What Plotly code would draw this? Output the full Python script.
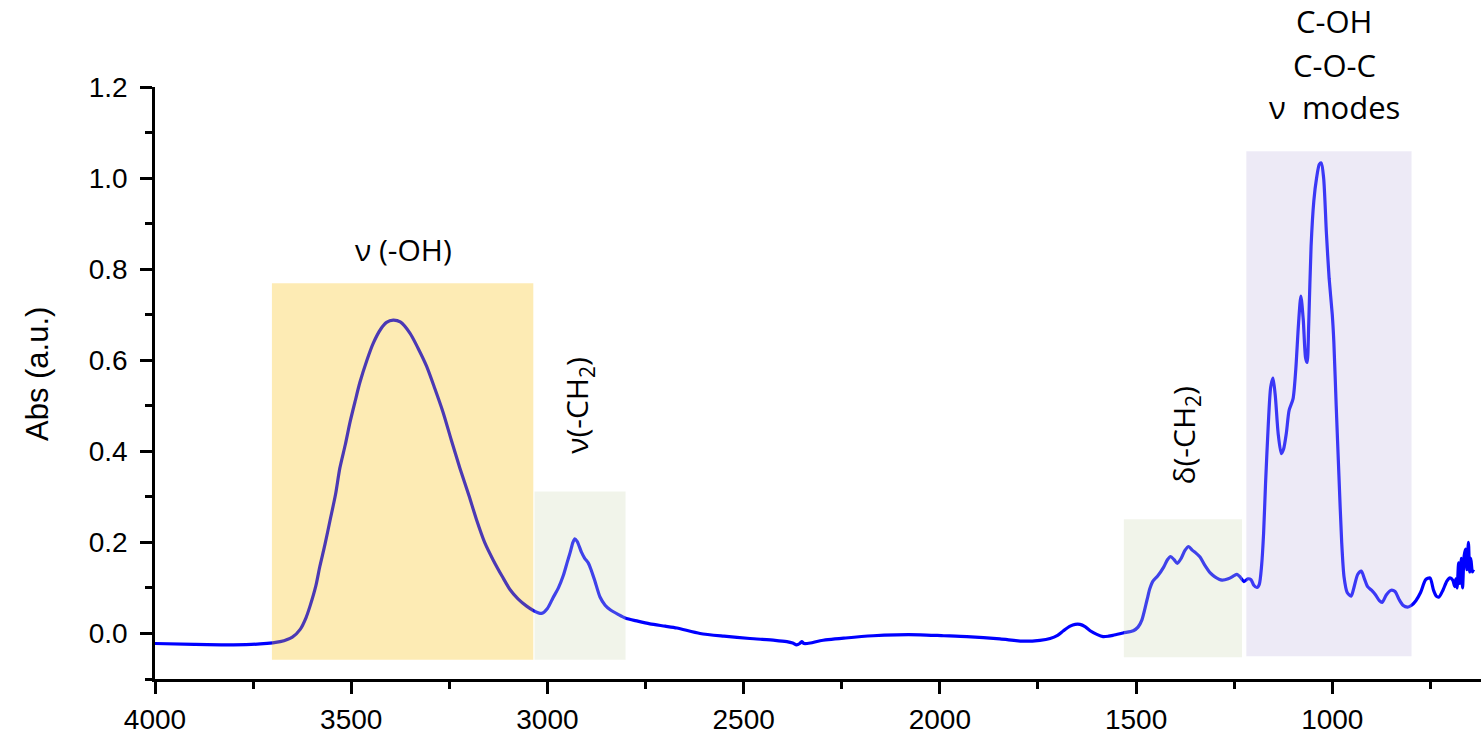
import plotly.graph_objects as go

# ---- data ----
wavenumber = [4000, 3900, 3800, 3732, 3681, 3650, 3630, 3615, 3605, 3590, 3580, 3567, 3554, 3540, 3529,
              3515, 3503, 3490, 3478, 3460, 3444, 3425, 3410, 3393, 3375, 3350, 3330, 3308, 3287, 3266,
              3245, 3223, 3200, 3180, 3160, 3138, 3115, 3095, 3075, 3053, 3035, 3015, 3000, 2986, 2972,
              2960, 2950, 2942, 2935, 2930, 2924, 2913, 2905, 2896, 2888, 2879, 2866, 2853, 2840, 2820,
              2802, 2770, 2739, 2700, 2670, 2611, 2550, 2484, 2420, 2390, 2375, 2365, 2357, 2352, 2346,
              2330, 2305, 2240, 2170, 2110, 2050, 1990, 1931, 1847, 1788, 1745, 1719, 1700, 1685, 1668,
              1655, 1643, 1630, 1617, 1600, 1584, 1570, 1558, 1533, 1507, 1495, 1485, 1472, 1465, 1457,
              1445, 1430, 1420, 1412, 1403, 1395, 1385, 1375, 1366, 1357, 1348, 1337, 1325, 1311, 1300,
              1281, 1265, 1250, 1243, 1235, 1225, 1215, 1207, 1200, 1192, 1186, 1180, 1175, 1170, 1163,
              1157, 1151, 1145, 1138, 1130, 1124, 1117, 1110, 1100, 1093, 1086, 1080, 1074, 1068, 1064,
              1060, 1054, 1047, 1040, 1033, 1028, 1022, 1015, 1008, 1000, 996, 990, 983, 976, 970,
              962, 952, 945, 935, 926, 918, 910, 900, 890, 880, 873, 862, 850, 840, 830,
              820, 808, 798, 787, 775, 762, 751, 742, 735, 728, 718, 708, 700, 693, 688,
              685, 682, 678, 675, 671, 668, 664, 660, 657, 653, 650, 647, 643, 640]

absorbance = [-0.022, -0.024, -0.025, -0.023, -0.018, -0.008, 0.009, 0.035, 0.06, 0.105, 0.147, 0.195, 0.248, 0.305, 0.363,
              0.415, 0.464, 0.51, 0.551, 0.60, 0.637, 0.668, 0.683, 0.688, 0.684, 0.659, 0.627, 0.587, 0.538, 0.486,
              0.425, 0.363, 0.303, 0.248, 0.2, 0.161, 0.125, 0.096, 0.076, 0.06, 0.05, 0.044, 0.055, 0.078, 0.10,
              0.126, 0.155, 0.178, 0.200, 0.208, 0.202, 0.178, 0.165, 0.155, 0.138, 0.115, 0.08, 0.062, 0.052, 0.042,
              0.034, 0.027, 0.021, 0.016, 0.012, 0.000, -0.006, -0.011, -0.015, -0.018, -0.021, -0.025, -0.022, -0.018, -0.022,
              -0.021, -0.016, -0.01, -0.005, -0.003, -0.003, -0.005, -0.007, -0.012, -0.017, -0.015, -0.011, -0.004, 0.006, 0.016,
              0.020, 0.020, 0.015, 0.006, -0.002, -0.007, -0.006, -0.004, 0.001, 0.006, 0.014, 0.03, 0.074, 0.098, 0.115,
              0.126, 0.145, 0.162, 0.169, 0.162, 0.154, 0.165, 0.183, 0.191, 0.183, 0.177, 0.168, 0.15, 0.133, 0.125,
              0.117, 0.12, 0.127, 0.13, 0.124, 0.114, 0.12, 0.118, 0.106, 0.101, 0.108, 0.15, 0.22, 0.33, 0.46,
              0.54, 0.561, 0.52, 0.44, 0.395, 0.405, 0.44, 0.49, 0.515, 0.58, 0.68, 0.741, 0.69, 0.605, 0.595,
              0.68, 0.85, 0.95, 1.0, 1.03, 1.033, 1.0, 0.88, 0.78, 0.70, 0.64, 0.5, 0.346, 0.2, 0.124,
              0.09, 0.082, 0.10, 0.13, 0.137, 0.12, 0.103, 0.095, 0.085, 0.072, 0.068, 0.085, 0.095, 0.092, 0.075,
              0.062, 0.058, 0.062, 0.072, 0.09, 0.118, 0.122, 0.095, 0.082, 0.08, 0.095, 0.115, 0.122, 0.117, 0.103,
              0.12, 0.1, 0.155, 0.11, 0.165, 0.1, 0.17, 0.185, 0.14, 0.2, 0.135, 0.165, 0.135, 0.14]

# highlighted band regions
band_x0 = [3702, 3033, 1531, 1219]
band_x1 = [3036, 2801, 1230, 798]
band_y0 = [-0.058, -0.058, -0.052, -0.05]
band_y1 = [0.769, 0.312, 0.251, 1.059]
band_colors = ["rgb(248,188,5)", "rgb(208,218,185)", "rgb(208,218,185)", "rgb(195,185,225)"]

x_ticks = [4000, 3500, 3000, 2500, 2000, 1500, 1000]
y_ticks = [0.0, 0.2, 0.4, 0.6, 0.8, 1.0, 1.2]

ann_font = "'Open Sans', sans-serif"
tick_font = "'Liberation Sans', Arial, sans-serif"

fig = go.Figure()
fig.add_trace(go.Scatter(x=wavenumber, y=absorbance, mode="lines",
                         line=dict(color="#0000ff", width=3.2, shape="spline", smoothing=0.7),
                         showlegend=False, hoverinfo="skip"))

for x0, x1, y0, y1, c in zip(band_x0, band_x1, band_y0, band_y1, band_colors):
    fig.add_shape(type="rect", xref="x", yref="y", x0=x0, x1=x1, y0=y0, y1=y1,
                  fillcolor=c, opacity=0.3, line=dict(width=0), layer="above")

data_annotations = [
    dict(x=3367, y=0.843, text="ν (-OH)", textangle=0),
    dict(x=2922, y=0.50, text="ν(-CH<sub>2</sub>)", textangle=-90),
    dict(x=1375, y=0.435, text="δ(-CH<sub>2</sub>)", textangle=-90),
]
for a in data_annotations:
    fig.add_annotation(xref="x", yref="y", showarrow=False,
                       font=dict(family=ann_font, size=30, color="black"),
                       xanchor="center", yanchor="middle", **a)

# stacked label above the fingerprint band (placed in paper coordinates)
for txt, yp in [("C-OH", 1.1117), ("C-O-C", 1.0367), ("ν  modes", 0.9667)]:
    fig.add_annotation(xref="x", yref="paper", x=995, y=yp, text=txt, showarrow=False,
                       font=dict(family=ann_font, size=31, color="black"),
                       xanchor="center", yanchor="middle")

# y-axis title as rotated annotation
fig.add_annotation(xref="paper", yref="paper", x=0, y=0.5, xshift=-118, yshift=9,
                   text="Abs (a.u.)", textangle=-90, showarrow=False,
                   font=dict(family="'Liberation Sans Narrow', 'Arial Narrow', sans-serif", size=31, color="black"),
                   xanchor="center", yanchor="middle")

fig.update_layout(
    width=1481, height=735,
    margin=dict(l=155, r=0, t=87, b=48),
    paper_bgcolor="white", plot_bgcolor="white",
    xaxis=dict(range=[4000, 621], tickvals=x_ticks, ticktext=[str(v) for v in x_ticks],
               showline=True, linecolor="black", linewidth=2.5, showgrid=False, zeroline=False,
               ticks="outside", ticklen=12, tickwidth=2.5, tickcolor="black",
               minor=dict(ticks="outside", ticklen=7, tickwidth=2.5, tickcolor="black", dtick=250, tick0=0),
               tickfont=dict(family=tick_font, size=28, color="black"), ticklabelstandoff=2),
    yaxis=dict(range=[-0.1, 1.2], tickvals=y_ticks, ticktext=["%.1f" % v for v in y_ticks],
               showline=True, linecolor="black", linewidth=2.5, showgrid=False, zeroline=False,
               ticks="outside", ticklen=12, tickwidth=2.5, tickcolor="black",
               minor=dict(ticks="outside", ticklen=7, tickwidth=2.5, tickcolor="black", dtick=0.1, tick0=0),
               tickfont=dict(family=tick_font, size=28, color="black"), ticklabelstandoff=7),
)

fig.write_html("out.html")
